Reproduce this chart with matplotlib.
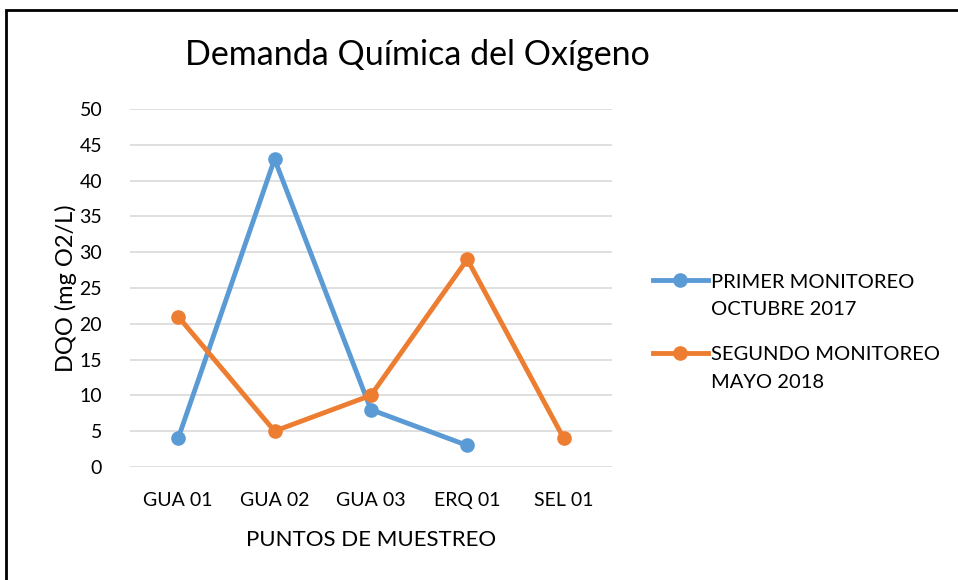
import matplotlib.pyplot as plt
from matplotlib.patches import Rectangle
from matplotlib.legend_handler import HandlerLine2D

plt.rcParams['font.family'] = ['Lato', 'DejaVu Sans']

# Datos
puntos = ['GUA 01', 'GUA 02', 'GUA 03', 'ERQ 01', 'SEL 01']
primer = [4, 43, 8, 3]          # octubre 2017 (sin SEL 01)
segundo = [21, 5, 10, 29, 4]    # mayo 2018
etiquetas = ['PRIMER MONITOREO\nOCTUBRE 2017', 'SEGUNDO MONITOREO\nMAYO 2018']
yticks = list(range(0, 51, 5))


# manejador de leyenda: pone la línea a la altura de la primera línea del texto
class HandlerPrimeraLinea(HandlerLine2D):
    def create_artists(self, legend, orig_handle, xdescent, ydescent, width, height, fontsize, trans):
        arts = super().create_artists(legend, orig_handle, xdescent, ydescent, width, height, fontsize, trans)
        for a in arts:
            a.set_ydata([y + fontsize * 0.78 for y in a.get_ydata()])
        return arts


fig = plt.figure(figsize=(9.58, 5.8), dpi=100)
ax = fig.add_axes([0.1357, 0.195, 0.503, 0.617])

l1, = ax.plot(puntos[:len(primer)], primer, color='#5b9bd5', lw=3.5, marker='o', ms=9.5, label=etiquetas[0])
l2, = ax.plot(puntos, segundo, color='#ed7d31', lw=3.5, marker='o', ms=9.5, label=etiquetas[1])

ax.set_xlim(-0.5, 4.5)
ax.set_ylim(0, 50)
ax.set_yticks(yticks)
ax.yaxis.grid(True, color='#d9d9d9', lw=1.2)
ax.set_axisbelow(True)
for s in ax.spines.values():
    s.set_visible(False)
ax.tick_params(length=0, labelsize=14, colors='black')
ax.tick_params(axis='x', pad=18)
ax.tick_params(axis='y', pad=20)

ax.set_xlabel('PUNTOS DE MUESTREO', fontsize=16, labelpad=15)
ax.set_ylabel('DQO (mg O2/L)', fontsize=17, labelpad=2)
fig.text(0.436, 0.905, 'Demanda Química del Oxígeno', fontsize=24.5, ha='center', va='center')

h = HandlerPrimeraLinea()
leg = fig.legend(loc='center left', bbox_to_anchor=(0.663, 0.427), frameon=False, fontsize=14.5,
                 handlelength=2.7, handletextpad=0.15, labelspacing=1.4,
                 handler_map={l1: h, l2: h})
for t in leg.get_texts():
    t.set_linespacing(1.75)

# marco
fig.patches.append(Rectangle((0.006, -0.1), 1.1, 1.083, transform=fig.transFigure,
                             fill=False, edgecolor='black', lw=2))

fig.savefig('out.png', dpi=100)
